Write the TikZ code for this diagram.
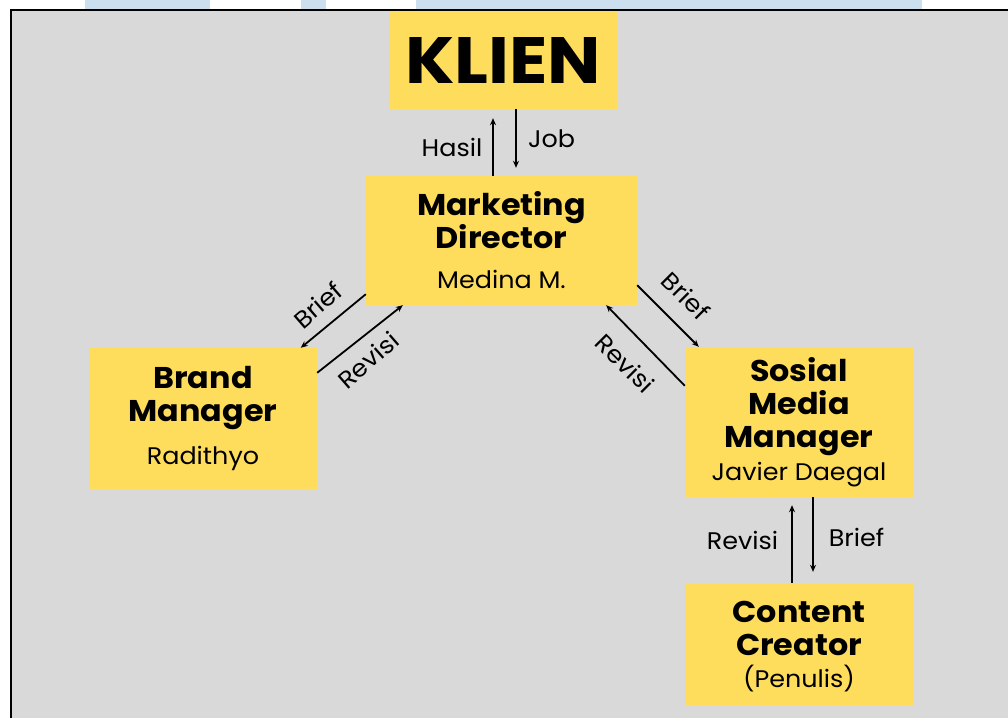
\documentclass[tikz,border=0pt]{standalone}
\usepackage{fontspec}
\usepackage{graphicx}
\setmainfont{Poppins}
\newfontfamily\wideface{Poppins}[FakeStretch=1.06]
\usetikzlibrary{arrows.meta}

\definecolor{panel}{HTML}{D9D9D9}
\definecolor{cardfill}{HTML}{FFDD5C}
\definecolor{strip}{HTML}{CCDFEE}

\newcommand{\titlefont}{\wideface\fontsize{30}{33}\selectfont\bfseries}
\newcommand{\namefont}{\wideface\fontsize{24}{28}\selectfont\mdseries}

\begin{document}
\begin{tikzpicture}[x=1pt,y=-1pt,
  card/.style={fill=cardfill, inner sep=0pt, align=center, font=\titlefont},
  flow/.style={line width=1.8pt, -{Stealth[length=7pt,width=6pt]}},
  tag/.style={font=\wideface\fontsize{24}{28}\selectfont, inner sep=0pt}]

% page, header strips and framed panel
\useasboundingbox (0,0) rectangle (1008,718);
\fill[white] (0,0) rectangle (1008,718);
\fill[strip] (85,0) rectangle (210,10);
\fill[strip] (301,0) rectangle (326,10);
\fill[strip] (416,0) rectangle (922,10);
\fill[panel] (10.5,9.5) rectangle (1008,718);
\draw[line width=2pt] (10.5,718) -- (10.5,9.5) -- (1008,9.5);

% role cards
\node[card, minimum width=228pt, minimum height=97pt] (klien) at (503,60.5)
  {\resizebox{196pt}{46pt}{\bfseries KLIEN}};
\node[card, minimum width=271pt, minimum height=129pt] (md) at (501.5,240.5)
  {Marketing\\Director\\[7pt]\namefont Medina M.};
\node[card, minimum width=228pt, minimum height=141pt] (bm) at (203,418.5)
  {Brand\\Manager\\[10pt]\namefont Radithyo};
\node[card, minimum width=228pt, minimum height=150pt] (smm) at (799,422)
  {Sosial\\Media\\Manager\\\namefont Javier Daegal};
\node[card, minimum width=228pt, minimum height=122pt] (cc) at (799,644)
  {\rule{0pt}{26pt}Content\\Creator\\[-1pt]\namefont (Penulis)};

% client <-> director
\coordinate (hx) at (493,0);
\coordinate (jx) at (516,0);
\draw[flow, shorten >=9pt] (md.north -| hx) -- (klien.south -| hx);
\draw[flow, shorten >=8pt] (klien.south -| jx) -- (md.north -| jx);
\node[tag, anchor=base] (thasil) at (452,156) {Hasil};
\node[tag, anchor=base] (tjob) at (551.5,147) {Job};

% director <-> brand manager
\draw[flow] ([yshift=11pt]md.south west) -- ([xshift=212pt]bm.north west);
\draw[flow] ([yshift=-25pt]bm.north east) -- ([xshift=37pt]md.south west);
\node[tag, rotate=41] (tbrief1) at (318,305) {Brief};
\node[tag, rotate=41] (trev1) at (368,360) {Revisi};

% director <-> social media manager
\draw[flow] ([yshift=20pt]md.south east) -- ([xshift=14pt]smm.north west);
\draw[flow] ([yshift=-39pt]smm.north west) -- ([xshift=-31pt]md.south east);
\node[tag, rotate=-45] (tbrief2) at (686,296) {Brief};
\node[tag, rotate=-45] (trev2) at (625,363) {Revisi};

% social media manager <-> content creator
\coordinate (rx) at (792,0);
\coordinate (bx) at (813,0);
\draw[flow, shorten >=8pt] (cc.north -| rx) -- (smm.south -| rx);
\draw[flow, shorten >=11pt] (smm.south -| bx) -- (cc.north -| bx);
\node[tag, anchor=base] (trev3) at (742.5,549) {Revisi};
\node[tag, anchor=base] (tbrief3) at (856.5,546) {Brief};
\end{tikzpicture}
\end{document}
